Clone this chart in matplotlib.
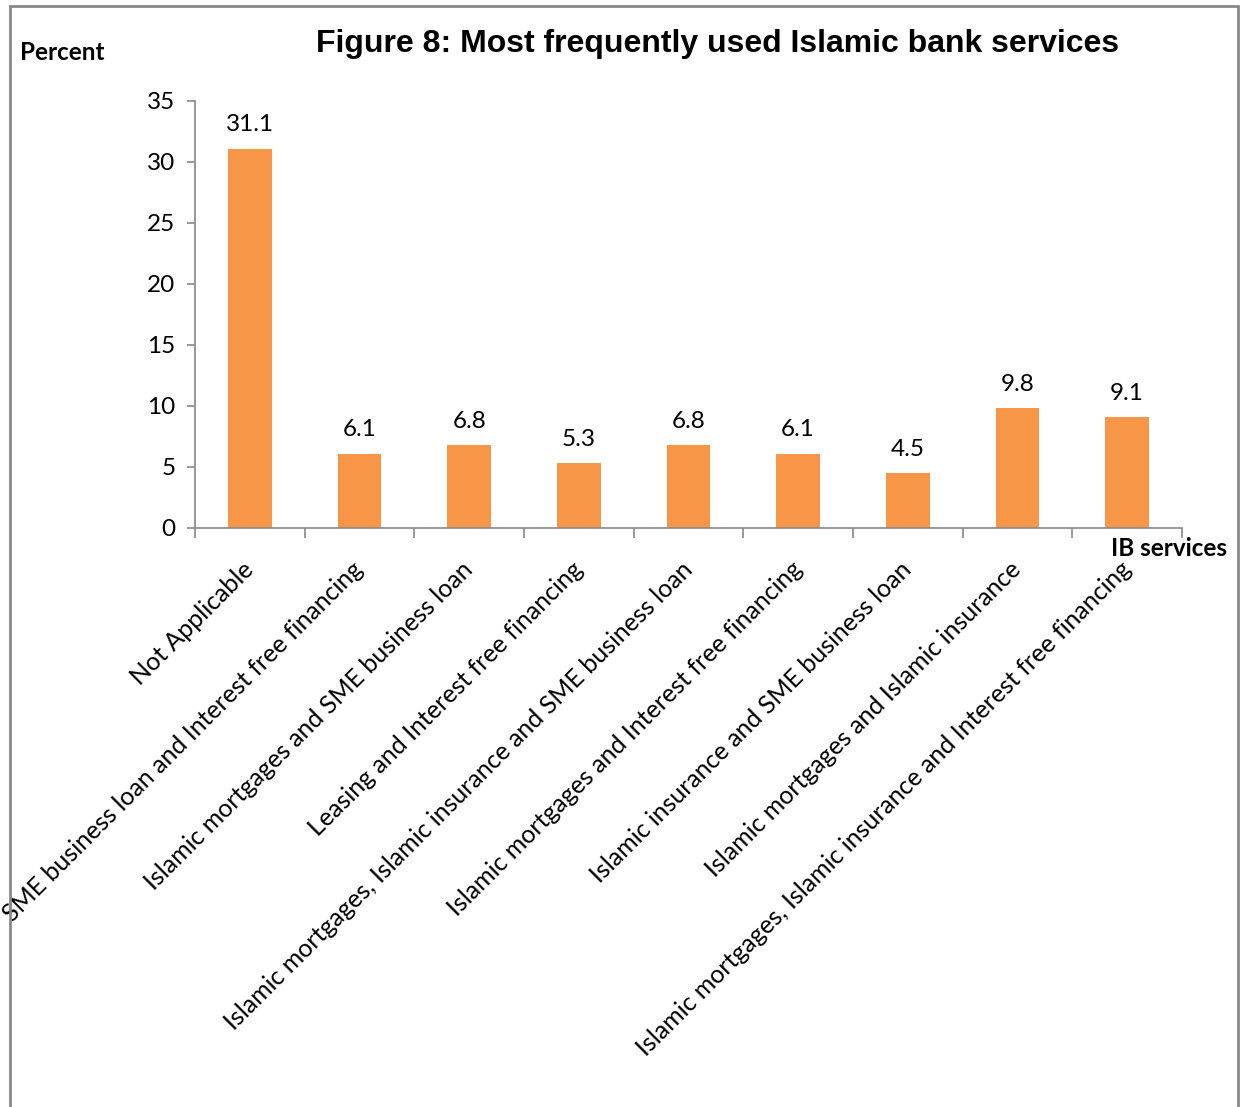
import matplotlib.pyplot as plt
from matplotlib.patches import Rectangle

categories = ["Not Applicable",
              "SME business loan and Interest free financing",
              "Islamic mortgages and SME business loan",
              "Leasing and Interest free financing",
              "Islamic mortgages, Islamic insurance and SME business loan",
              "Islamic mortgages and Interest free financing",
              "Islamic insurance and SME business loan",
              "Islamic mortgages and Islamic insurance",
              "Islamic mortgages, Islamic insurance and Interest free financing"]
values = [31.1, 6.1, 6.8, 5.3, 6.8, 6.1, 4.5, 9.8, 9.1]
yticks = [0, 5, 10, 15, 20, 25, 30, 35]

body = ['Lato', 'DejaVu Sans']
grey = '#898989'
fs = 17.5

fig = plt.figure(figsize=(12.42, 11.07), dpi=100)
ax = fig.add_axes([195/1242, 1-528/1107, (1182-195)/1242, (528-101)/1107])

x = list(range(len(values)))
ax.bar(x, values, width=0.4, color='#F79646')
for xi, v in zip(x, values):
    ax.text(xi, v + 1.1, f'{v:.1f}', ha='center', va='bottom', fontsize=fs, family=body)

ax.set_xlim(-0.5, len(values) - 0.5)
ax.set_ylim(0, 35)
ax.set_yticks(yticks)
ax.set_yticklabels([str(t) for t in yticks], fontsize=fs, family=body)

# ticks on category boundaries, labels in the middle
ax.set_xticks([i - 0.5 for i in range(len(values) + 1)])
ax.set_xticklabels([])
ax.set_xticks(x, minor=True)
ax.set_xticklabels(categories, minor=True, rotation=45, ha='right', va='center',
                   rotation_mode='anchor', fontsize=18, family=body)
ax.tick_params(axis='x', which='minor', length=0, pad=27)
ax.tick_params(axis='x', which='major', length=7, color=grey, width=1.2)
ax.tick_params(axis='y', length=6, color=grey, width=1.2, pad=8)

for s in ['top', 'right']:
    ax.spines[s].set_visible(False)
for s in ['left', 'bottom']:
    ax.spines[s].set_color(grey)
    ax.spines[s].set_linewidth(1.2)

fig.text(316/1242, 1-44/1107, 'Figure 8: Most frequently used Islamic bank services',
         fontsize=23, fontweight='bold', family='Liberation Sans', va='center', ha='left')
fig.text(20/1242, 1-52/1107, 'Percent', fontsize=fs, fontweight='bold', family=body,
         va='center', ha='left')
fig.text(1227/1242, 1-549/1107, 'IB services', fontsize=fs, fontweight='bold', family=body,
         va='center', ha='right')

fig.patches.append(Rectangle((10/1242, -0.05), (1238-10)/1242, 1.05-6/1107,
                             transform=fig.transFigure, fill=False, edgecolor=grey,
                             linewidth=2))

fig.savefig('out.png', dpi=100)
